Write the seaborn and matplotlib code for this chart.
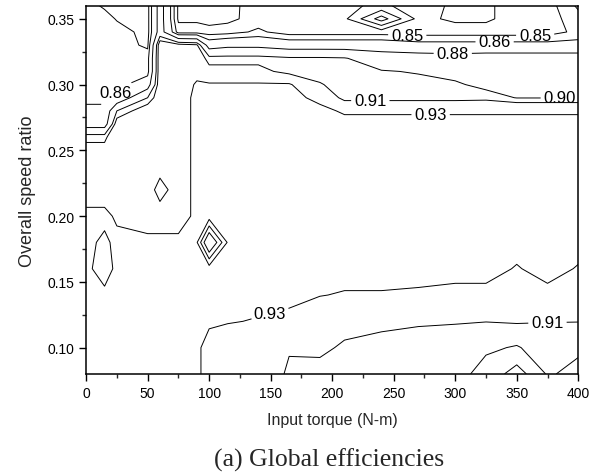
import numpy as np
import matplotlib
matplotlib.use("Agg")
import matplotlib.pyplot as plt
import seaborn as sns
from matplotlib.ticker import MultipleLocator

# grid (torque in N-m, overall speed ratio)
torque = [0, 15, 25, 50, 60, 75, 90, 100, 115, 140, 165, 190, 210, 240, 270, 300, 325, 350, 375, 400]
speed_ratio = [0.08, 0.10, 0.12, 0.14, 0.16, 0.18, 0.20, 0.22, 0.24, 0.26,
               0.27, 0.28, 0.29, 0.30, 0.31, 0.32, 0.33, 0.34, 0.35, 0.36]

# global efficiency, one list per speed ratio row
eff_008 = [.935, .935, .935, .935, .935, .935, .935, .920, .920, .920, .908, .905, .905, .905, .905, .905, .895, .870, .902, .895]
eff_010 = [.935, .935, .935, .935, .935, .935, .935, .920, .920, .920, .911, .913, .908, .907, .906, .906, .902, .899, .906, .903]
eff_012 = [.935, .935, .935, .935, .935, .935, .935, .934, .931, .929, .925, .920, .915, .912, .911, .9105, .9102, .911, .9102, .9102]
eff_014 = [.935, .935, .935, .935, .935, .935, .935, .935, .935, .935, .935, .9305, .929, .929, .928, .926, .926, .925, .926, .924]
eff_016 = [.935, .920, .935, .935, .935, .935, .935, .935, .935, .935, .935, .935, .935, .935, .935, .935, .935, .929, .935, .929]
eff_018 = [.935, .926, .935, .935, .935, .935, .939, .975, .939, .935, .935, .935, .935, .935, .935, .935, .935, .935, .935, .935]
eff_020 = [.935, .935, .927, .920, .920, .920, .935, .935, .935, .935, .935, .935, .935, .935, .935, .935, .935, .935, .935, .935]
eff_022 = [.920, .920, .920, .920, .938, .920, .935, .935, .935, .935, .935, .935, .935, .935, .935, .935, .935, .935, .935, .935]
eff_024 = [.920, .920, .920, .920, .920, .920, .935, .935, .935, .935, .935, .935, .935, .935, .935, .935, .935, .935, .935, .935]
eff_026 = [.9075, .9075, .920, .920, .920, .920, .935, .935, .935, .935, .935, .935, .935, .935, .935, .935, .935, .935, .935, .935]
eff_027 = [.870, .870, .918, .920, .920, .920, .935, .935, .935, .935, .935, .935, .935, .935, .935, .935, .935, .935, .935, .935]
eff_028 = [.865, .865, .900, .920, .920, .920, .935, .935, .935, .935, .935, .934, .928, .928, .928, .928, .928, .928, .928, .928]
eff_029 = [.855, .855, .865, .900, .920, .920, .935, .935, .935, .935, .935, .926, .905, .905, .905, .905, .906, .8995, .8995, .8995]
eff_030 = [.855, .855, .855, .870, .920, .920, .932, .932, .932, .932, .932, .911, .905, .904, .904, .902, .896, .896, .896, .896]
eff_031 = [.855, .855, .855, .855, .920, .920, .925, .915, .915, .915, .905, .905, .903, .901, .899, .895, .895, .895, .895, .895]
eff_032 = [.855, .855, .855, .855, .920, .920, .920, .905, .905, .905, .902, .902, .901, .890, .890, .888, .890, .890, .890, .890]
eff_033 = [.855, .855, .855, .848, .920, .915, .912, .870, .875, .875, .870, .870, .870, .870, .865, .865, .865, .865, .865, .865]
eff_034 = [.855, .855, .855, .846, .890, .845, .845, .845, .846, .852, .845, .845, .845, .845, .845, .845, .845, .845, .845, .853]
eff_035 = [.855, .855, .849, .846, .890, .838, .838, .835, .837, .845, .845, .845, .842, .815, .843, .838, .838, .845, .845, .856]
eff_036 = [.855, .848, .847, .846, .890, .838, .838, .835, .836, .846, .845, .845, .842, .838, .845, .838, .838, .845, .845, .862]

plain_levels = [0.82, 0.83, 0.84, 0.94, 0.95, 0.96]

# labelled levels and where the printed labels sit on the original map
label_spots = {
    0.85: [(261, 0.337), (365, 0.337)],
    0.86: [(28, 0.29), (332, 0.333)],
    0.88: [(298, 0.324)],
    0.90: [(385, 0.29)],
    0.91: [(231, 0.288), (375, 0.118)],
    0.93: [(150, 0.124), (280, 0.278)],
}

eff = np.array([eff_008, eff_010, eff_012, eff_014, eff_016, eff_018, eff_020,
                eff_022, eff_024, eff_026, eff_027, eff_028, eff_029, eff_030,
                eff_031, eff_032, eff_033, eff_034, eff_035, eff_036])

sns.set_style("ticks")
plt.rcParams['font.family'] = ['Liberation Sans', 'DejaVu Sans']

fig = plt.figure(figsize=(5.98, 4.77), dpi=100)
ax = fig.add_axes([0.144, 0.214, 0.823, 0.772])

ax.contour(torque, speed_ratio, eff, levels=plain_levels, colors='black', linewidths=0.7)
# one contour set per labelled level so the manual label lands on the right line
for lev, spots in label_spots.items():
    cs = ax.contour(torque, speed_ratio, eff, levels=[lev], colors='black', linewidths=0.7)
    texts = ax.clabel(cs, manual=spots, inline=True, inline_spacing=3, fmt='%.2f', fontsize=12)
    for t in texts:
        t.set_rotation(0)

ax.set_xlim(0, 400)
ax.set_ylim(0.08, 0.36)
ax.xaxis.set_major_locator(MultipleLocator(50))
ax.xaxis.set_minor_locator(MultipleLocator(25))
ax.yaxis.set_major_locator(MultipleLocator(0.05))
ax.yaxis.set_minor_locator(MultipleLocator(0.025))
ax.yaxis.set_major_formatter(matplotlib.ticker.FormatStrFormatter('%.2f'))
ax.tick_params(which='major', direction='out', length=5, width=1, labelsize=10, colors='black')
ax.tick_params(which='minor', direction='out', length=3, width=1)
for sp in ax.spines.values():
    sp.set_linewidth(1.1)
    sp.set_color('black')

ax.set_xlabel('Input torque (N-m)', fontsize=11.5, labelpad=9)
ax.set_ylabel('Overall speed ratio', fontsize=13, labelpad=8)

fig.text(0.55, 0.036, '(a) Global efficiencies', ha='center', va='center', fontsize=18.5,
         family=['Liberation Serif', 'DejaVu Serif'])

fig.savefig('out.png', dpi=100)
